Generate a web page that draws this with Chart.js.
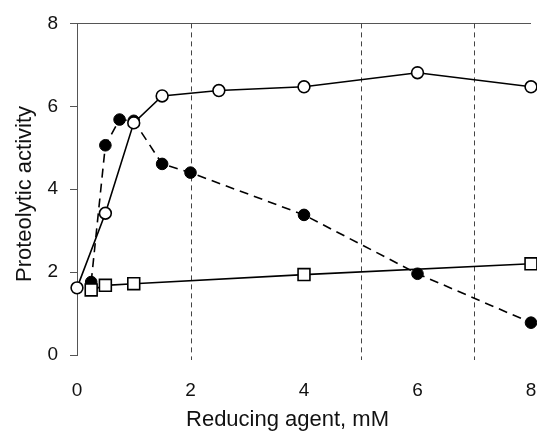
<!DOCTYPE html>
<html>
<head>
<meta charset="utf-8">
<script src="https://cdn.jsdelivr.net/npm/chart.js@4"></script>
<style>
  html, body { margin: 0; padding: 0; background: #fff; }
  #chart { display: block; }
</style>
</head>
<body>
<canvas id="chart" width="537" height="431"></canvas>
<script>
  // Lecturas del gráfico (actividad proteolítica vs agente reductor, mM)
  const xOpen = [0, 0.5, 1, 1.5, 2.5, 4, 6, 8];
  const yOpen = [1.62, 3.42, 5.6, 6.25, 6.38, 6.47, 6.81, 6.47];
  const xFilled = [0.25, 0.5, 0.75, 1, 1.5, 2, 4, 6, 8];
  const yFilled = [1.76, 5.06, 5.68, 5.65, 4.61, 4.4, 3.38, 1.96, 0.78];
  const xSquare = [0.25, 0.5, 1, 4, 8];
  const ySquare = [1.57, 1.68, 1.72, 1.94, 2.2];
  const xTicks = [0, 2, 4, 6, 8];
  const yTicks = [0, 2, 4, 6, 8];
  const refLines = [2, 5, 7];
  const xTitle = 'Reducing agent, mM';
  const yTitle = 'Proteolytic activity';

  const pts = (xs, ys) => xs.map((x, i) => ({ x, y: ys[i] }));
  const FONT = 'Liberation Sans, Arial, sans-serif';
  const AXIS = '#555';

  // líneas verticales punteadas de referencia
  const refPlugin = {
    id: 'refLines',
    beforeDatasetsDraw(chart) {
      const { ctx, chartArea, scales } = chart;
      ctx.save();
      ctx.strokeStyle = '#444';
      ctx.lineWidth = 1;
      ctx.setLineDash([5, 4]);
      refLines.forEach((v) => {
        const px = Math.round(scales.x.getPixelForValue(v)) + 0.5;
        ctx.beginPath();
        ctx.moveTo(px, chartArea.top);
        ctx.lineTo(px, chartArea.bottom + 5);
        ctx.stroke();
      });
      ctx.restore();
    },
  };

  // títulos de ejes (en el original no están centrados en el área)
  const titlesPlugin = {
    id: 'axisTitles',
    afterDraw(chart) {
      const { ctx } = chart;
      ctx.save();
      ctx.fillStyle = '#111';
      ctx.font = `22px ${FONT}`;
      ctx.textAlign = 'center';
      ctx.textBaseline = 'alphabetic';
      ctx.fillText(xTitle, 287.5, 426);
      ctx.translate(31, 194);
      ctx.rotate(-Math.PI / 2);
      ctx.fillText(yTitle, 0, 0);
      ctx.restore();
    },
  };

  new Chart(document.getElementById('chart'), {
    type: 'line',
    data: {
      datasets: [
        { data: pts(xOpen, yOpen), borderColor: '#000', borderWidth: 1.6, pointStyle: 'circle', pointRadius: 5.9,
          pointBackgroundColor: '#fff', pointBorderColor: '#000', pointBorderWidth: 1.6, clip: false },
        { data: pts(xSquare, ySquare), borderColor: '#000', borderWidth: 1.6, pointStyle: 'rect', pointRadius: 8.4,
          pointBackgroundColor: '#fff', pointBorderColor: '#000', pointBorderWidth: 1.6, clip: false },
        { data: pts(xFilled, yFilled), borderColor: '#000', borderWidth: 1.6, borderDash: [9, 6], pointStyle: 'circle', pointRadius: 5.8,
          pointBackgroundColor: '#000', pointBorderColor: '#000', pointBorderWidth: 1, clip: false },
      ],
    },
    options: {
      responsive: false,
      animation: false,
      layout: { autoPadding: false, padding: { top: 21, right: 6, left: 0, bottom: 0 } },
      plugins: { legend: { display: false }, tooltip: { enabled: false } },
      scales: {
        x: {
          type: 'linear', min: 0, max: 8,
          afterBuildTicks: (s) => { s.ticks = xTicks.map((v) => ({ value: v })); },
          afterFit: (s) => { s.height = 76; s.paddingLeft = 0; s.paddingRight = 0; },
          grid: { display: true, color: 'transparent', drawTicks: true, tickLength: 23 },
          border: { display: false },
          ticks: { color: '#111', font: { family: FONT, size: 19 }, padding: 1, maxRotation: 0 },
        },
        y: {
          min: 0, max: 8,
          afterBuildTicks: (s) => { s.ticks = yTicks.map((v) => ({ value: v })); },
          afterFit: (s) => { s.width = 77; },
          grid: { color: (c) => (c.tick && c.tick.value === 8 ? AXIS : 'transparent'), tickColor: AXIS, tickLength: 7, lineWidth: 1 },
          border: { display: true, color: AXIS, width: 1 },
          ticks: { color: '#111', font: { family: FONT, size: 19 }, padding: 12 },
        },
      },
    },
    plugins: [refPlugin, titlesPlugin],
  });
</script>
</body>
</html>
